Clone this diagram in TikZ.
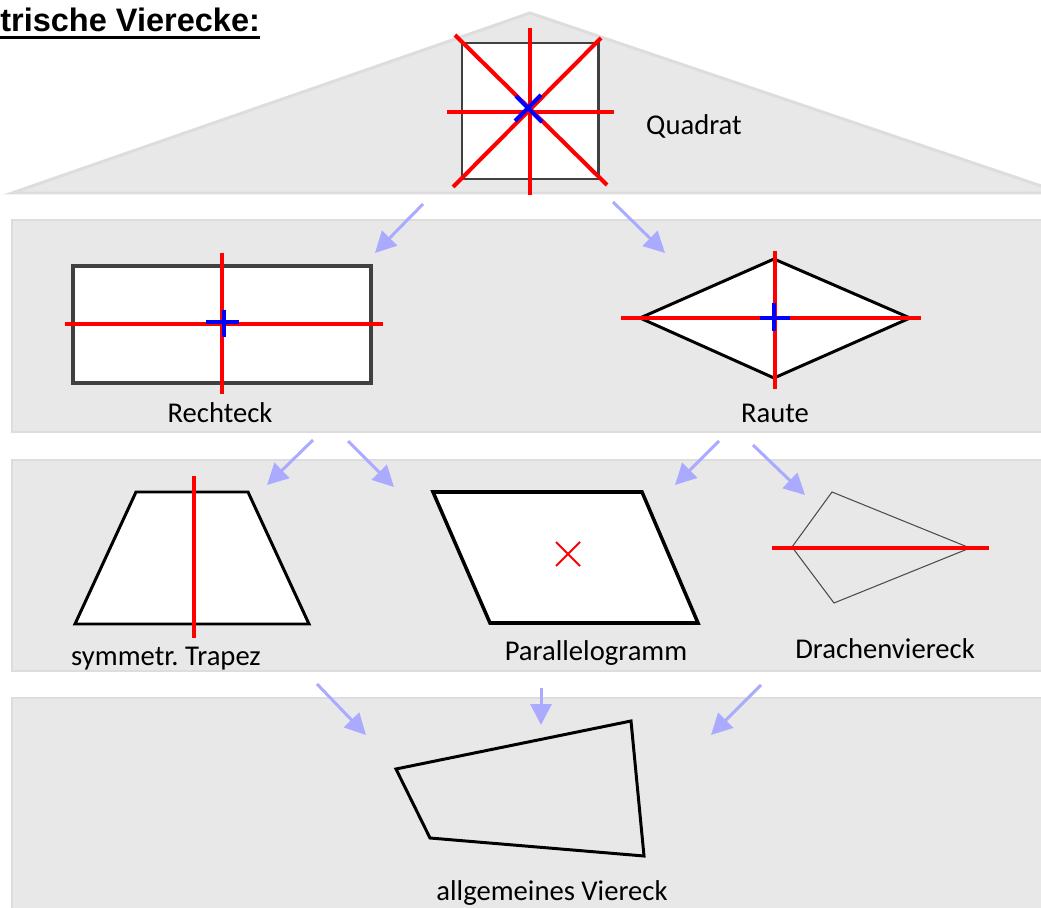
\documentclass[tikz,border=0pt]{standalone}
\usepackage{fontspec}
\setmainfont{Carlito}
\newfontfamily\titlefont{Liberation Sans}
\usetikzlibrary{arrows.meta}
\definecolor{panelgray}{HTML}{E8E8E8}
\definecolor{panelline}{HTML}{DDDDDD}
\definecolor{arrowblue}{HTML}{AAAAFF}
\definecolor{framegray}{HTML}{404040}
\frenchspacing

\begin{document}
\begin{tikzpicture}[x=0.02cm, y=-0.02cm,
  panel/.style={fill=panelgray, draw=panelline, line width=1.7pt},
  axis/.style={draw=red, line width=2.3pt},
  centre/.style={draw=blue, line width=2.3pt},
  figure/.style={draw=black, line width=1.7pt, fill=white},
  flow/.style={draw=arrowblue, line width=1.7pt, -{Triangle[length=0.42cm, width=0.42cm]}},
  shapename/.style={font=\fontsize{16.3}{19}\selectfont, anchor=base, inner sep=0pt}]
\clip (0,0) rectangle (1041,908);

% background: roof and three floors
\draw[panel] (12,193) -- (530,13) -- (1062,193) -- cycle;
\draw[panel] (12,220) rectangle (1050,432);
\draw[panel] (12,460) rectangle (1050,671);
\draw[panel] (12,698) rectangle (1050,930);

% title
\node[font=\titlefont\bfseries\fontsize{18.5}{21}\selectfont, anchor=base west, inner sep=0pt] (title) at (0,32) {trische Vierecke:};
\draw[line width=1.7pt] ([yshift=-0.12cm]title.base west) -- ([yshift=-0.12cm]title.base east);

% Quadrat
\draw[draw=framegray, line width=1.7pt, fill=white] (462,43) rectangle (598,179);
\draw[axis] (530,28) -- (530,195);
\draw[axis] (447,112) -- (614,112);
\draw[axis] (455,35) -- (607,185);
\draw[axis] (601,38) -- (453,187);
\draw[centre] (516,96) -- (542,122);
\draw[centre] (541,95) -- (515,121);
\node[shapename] (quadrat) at (694,135) {Quadrat};

% Rechteck
\draw[draw=framegray, line width=2.3pt, fill=white] (73,266) rectangle (371,383);
\draw[axis] (65,324) -- (383,324);
\draw[axis] (222,253) -- (222,394);
\draw[centre] (206,322) -- (239,322);
\draw[centre] (224,310) -- (224,337);
\node[shapename] (rechteck) at (220,423) {Rechteck};

% Raute
\draw[figure] (774,259) -- (910,318) -- (774,378) -- (640,318) -- cycle;
\draw[axis] (621,318) -- (921,318);
\draw[axis] (775,251) -- (775,389);
\draw[centre] (760,318) -- (790,318);
\draw[centre] (774,303) -- (774,331);
\node[shapename] (raute) at (775,423) {Raute};

% symmetrisches Trapez
\draw[figure] (136,492) -- (248,492) -- (309,624) -- (75,624) -- cycle;
\draw[axis] (194,476) -- (194,638);
\node[shapename] (trapez) at (166,665) {symmetr. Trapez};

% Parallelogramm
\draw[figure, line width=2pt] (433,492) -- (642,492) -- (698,623) -- (490,623) -- cycle;
\draw[draw=red, line width=1.2pt] (556,542) -- (580,566);
\draw[draw=red, line width=1.2pt] (580,542) -- (556,566);
\node[shapename] (parallelogramm) at (596,660) {Parallelogramm};

% Drachenviereck
\draw[draw=black!70, line width=0.6pt] (832,492) -- (970,548) -- (834,603) -- (792,547) -- cycle;
\draw[axis] (772,548) -- (989,548);
\node[shapename] (drachen) at (885,658) {Drachenviereck};

% allgemeines Viereck
\draw[draw=black, line width=1.7pt] (396,769) -- (631,721) -- (644,856) -- (430,838) -- cycle;
\node[shapename] (viereck) at (552,900) {allgemeines Viereck};

% arrows between the floors
\coordinate (q1) at (423,204); \coordinate (re1) at (375,253);
\coordinate (q2) at (613,202); \coordinate (ra1) at (665,253);
\coordinate (re2) at (313,440); \coordinate (tr1) at (267,485);
\coordinate (re3) at (348,441); \coordinate (pa1) at (394,487);
\coordinate (ra2) at (719,441); \coordinate (pa2) at (675,485);
\coordinate (ra3) at (753,445); \coordinate (dr1) at (805,495);
\coordinate (tr2) at (317,684); \coordinate (av1) at (366,735);
\coordinate (pa3) at (541,688); \coordinate (av2) at (541,725);
\coordinate (dr2) at (761,685); \coordinate (av3) at (711,735);
\draw[flow] (q1) -- (re1);
\draw[flow] (q2) -- (ra1);
\draw[flow] (re2) -- (tr1);
\draw[flow] (re3) -- (pa1);
\draw[flow] (ra2) -- (pa2);
\draw[flow] (ra3) -- (dr1);
\draw[flow] (tr2) -- (av1);
\draw[flow] (pa3) -- (av2);
\draw[flow] (dr2) -- (av3);
\end{tikzpicture}
\end{document}
